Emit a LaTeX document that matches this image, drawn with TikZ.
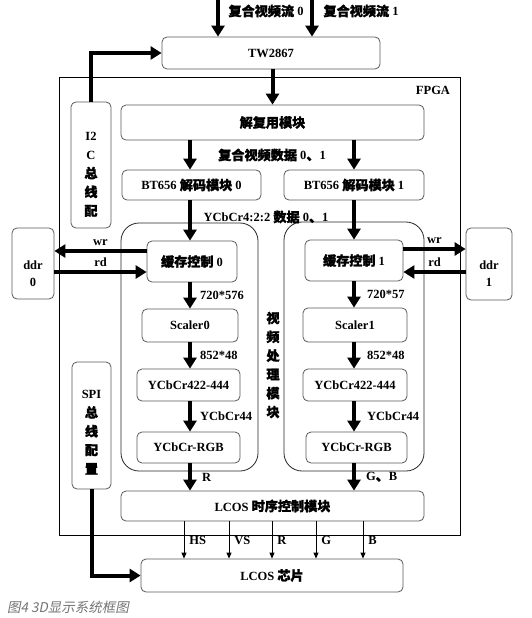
\documentclass[tikz,border=0pt]{standalone}
\usepackage{fontspec}
\setmainfont{Liberation Serif}
\newfontfamily\zhfont[FakeBold=1.5,Scale=1.05]{Noto Sans CJK SC}
\newfontfamily\capfont[FakeSlant=0.2]{Noto Sans CJK SC}
\usetikzlibrary{arrows.meta}
\newcommand{\zh}[1]{{\zhfont #1}}

\begin{document}
\begin{tikzpicture}[x=1pt,y=-1pt,
	blk/.style={draw=black!65,rounded corners=5pt,line width=0.8pt,inner sep=0pt,font=\bfseries\fontsize{12.5}{15}\selectfont},
	grp/.style={draw=black!85,rounded corners=18pt,line width=0.8pt,inner sep=0pt},
	bigarr/.style={line width=4pt,-{Triangle[length=11pt,width=13pt]}},
	thinarr/.style={line width=0.9pt,-{Triangle[length=6pt,width=5pt]}},
	lbl/.style={font=\bfseries\fontsize{12.5}{15}\selectfont,inner sep=1pt},
	vtxt/.style={lbl,align=center,font=\bfseries\fontsize{12.5}{18.8}\selectfont}]

	\useasboundingbox (0,0) rectangle (532,618);

	% FPGA frame
	\draw[line width=0.8pt] (59,77) rectangle (460,535);
	\node[lbl] (fpga) at (433,90) {FPGA};

	% columns of the two channels
	\coordinate (colL) at (190,0);
	\coordinate (colR) at (354,0);
	\coordinate (in0) at (218,0);
	\coordinate (in1) at (312,0);

	\node[blk,minimum width=218pt,minimum height=32pt] (tw) at (271,53) {TW2867};
	\node[blk,minimum width=303pt,minimum height=35pt] (demux) at (272.5,122.5) {\zh{解复用模块}};
	\node[blk,minimum width=139pt,minimum height=30pt] (bt0) at (191.5,185) {BT656 \zh{解码模块} 0};
	\node[blk,minimum width=140pt,minimum height=30pt] (bt1) at (354,185) {BT656 \zh{解码模块} 1};

	% video processing groups
	\node[grp,minimum width=137pt,minimum height=248pt] (grp0) at (189.5,347) {};
	\node[grp,minimum width=140pt,minimum height=249pt] (grp1) at (354,346.5) {};
	\node[vtxt] (vproc) at (273,365) {\zh{视}\\\zh{频}\\\zh{处}\\\zh{理}\\\zh{模}\\\zh{块}};

	\node[blk,minimum width=90pt,minimum height=41pt] (buf0) at (192,261.5) {\zh{缓存控制} 0};
	\node[blk,minimum width=98pt,minimum height=41pt] (buf1) at (354,260.5) {\zh{缓存控制} 1};
	\node[blk,minimum width=96pt,minimum height=33pt] (sc0) at (190,325.5) {Scaler0};
	\node[blk,minimum width=104pt,minimum height=34pt] (sc1) at (355,325) {Scaler1};
	\node[blk,minimum width=103pt,minimum height=32pt] (yc0) at (188.5,385) {YCbCr422-444};
	\node[blk,minimum width=104pt,minimum height=32pt] (yc1) at (355,385) {YCbCr422-444};
	\node[blk,minimum width=103pt,minimum height=31pt] (rgb0) at (188.5,447.5) {YCbCr-RGB};
	\node[blk,minimum width=101pt,minimum height=31pt] (rgb1) at (356.5,447.5) {YCbCr-RGB};

	\node[blk,minimum width=303pt,minimum height=30pt] (lcosctl) at (272.5,506) {LCOS \zh{时序控制模块}};
	\node[blk,minimum width=262pt,minimum height=33pt] (lcos) at (272,575.5) {LCOS \zh{芯片}};

	% side boxes
	\node[blk,minimum width=40pt,minimum height=126pt] (i2c) at (91,165) {};
	\node[vtxt] (i2ctxt) at (91,174.5) {I2\\C\\\zh{总}\\\zh{线}\\\zh{配}};
	\node[blk,minimum width=39pt,minimum height=127pt] (spi) at (91.5,425.5) {};
	\node[vtxt] (spitxt) at (91.5,432.5) {SPI\\\zh{总}\\\zh{线}\\\zh{配}\\\zh{置}};
	\node[blk,minimum width=42pt,minimum height=71pt] (ddr0) at (33,263.5) {};
	\node[lbl,align=center] (ddr0txt) at (33,273.5) {ddr\\[2pt]0};
	\node[blk,minimum width=46pt,minimum height=72pt] (ddr1) at (489,264) {};
	\node[lbl,align=center] (ddr1txt) at (489,273.5) {ddr\\[2pt]1};

	% inputs
	\draw[bigarr] (in0) -- (tw.north -| in0);
	\draw[bigarr] (in1) -- (tw.north -| in1);
	\node[lbl] (s0) at (266,11) {\zh{复合视频流} 0};
	\node[lbl] (s1) at (361,11) {\zh{复合视频流} 1};

	\draw[bigarr] (tw.south -| demux.north) -- (demux.north);
	\draw[bigarr] (i2c.north) |- (tw.west);
	\draw[bigarr] (spi.south) |- (lcos.west);

	% left channel
	\draw[bigarr] (demux.south -| colL) -- (bt0.north -| colL);
	\draw[bigarr] (bt0.south -| colL) -- (buf0.north -| colL);
	\draw[bigarr] (buf0.south -| colL) -- (sc0.north -| colL) node[lbl,midway,right=7pt] {720*576};
	\draw[bigarr] (sc0.south -| colL) -- (yc0.north -| colL) node[lbl,midway,right=7pt] {852*48};
	\draw[bigarr] (yc0.south -| colL) -- (rgb0.north -| colL) node[lbl,midway,right=7pt] {YCbCr44};
	\draw[bigarr] (rgb0.south -| colL) -- (lcosctl.north -| colL) node[lbl,midway,right=9pt] {R};

	% right channel
	\draw[bigarr] (demux.south -| colR) -- (bt1.north -| colR);
	\draw[bigarr] (bt1.south -| colR) -- (buf1.north -| colR);
	\draw[bigarr] (buf1.south -| colR) -- (sc1.north -| colR) node[lbl,midway,right=10pt] {720*57};
	\draw[bigarr] (sc1.south -| colR) -- (yc1.north -| colR) node[lbl,midway,right=10pt] {852*48};
	\draw[bigarr] (yc1.south -| colR) -- (rgb1.north -| colR) node[lbl,midway,right=10pt] {YCbCr44};
	\draw[bigarr] (rgb1.south -| colR) -- (lcosctl.north -| colR) node[lbl,midway,right=9pt] {G\zh{、}B};

	\node[lbl] (d01) at (272,155) {\zh{复合视频数据} 0\zh{、}1};
	\node[lbl] (y01) at (266,217) {YCbCr4:2:2 \zh{数据} 0\zh{、}1};

	% memory
	\draw[bigarr] ([yshift=10.5pt]buf0.west) -- ([yshift=10.5pt]buf0.west -| ddr0.east) node[lbl,midway,above=2pt] {wr};
	\draw[bigarr] ([yshift=-10.5pt]buf0.west -| ddr0.east) -- ([yshift=-10.5pt]buf0.west) node[lbl,midway,above=2pt] {rd};
	\draw[bigarr] ([yshift=11.5pt]buf1.east) -- ([yshift=11.5pt]buf1.east -| ddr1.west) node[lbl,midway,above=2pt] {wr};
	\draw[bigarr] ([yshift=-11.5pt]buf1.east -| ddr1.west) -- ([yshift=-11.5pt]buf1.east) node[lbl,midway,above=2pt] {rd};

	% outputs
	\foreach \x/\t [count=\i] in {184/HS,229/VS,272/R,316/G,363/B} {
		\coordinate (o\i) at (\x,0);
		\draw[thinarr] (lcosctl.south -| o\i) -- (lcos.north -| o\i) node[lbl,midway,right=4pt] {\t};
	}

	\node[anchor=west,inner sep=0pt,text=black!55,font=\capfont\fontsize{13.5}{16}\selectfont] (cap) at (7,607) {图4 3D显示系统框图};
\end{tikzpicture}
\end{document}
